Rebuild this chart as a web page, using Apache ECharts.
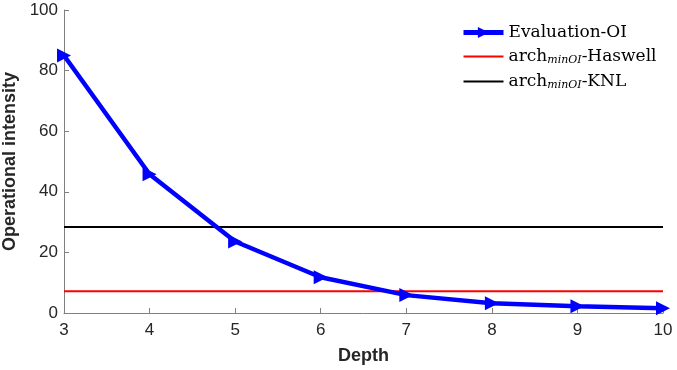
<!DOCTYPE html>
<html>
<head>
<meta charset="utf-8">
<script src="https://cdn.jsdelivr.net/npm/echarts@6/dist/echarts.min.js"></script>
<style>
  html, body { margin: 0; padding: 0; background: #fff; }
  #chart { width: 677px; height: 370px; }
</style>
</head>
<body>
<div id="chart"></div>
<script>
var depth = [3, 4, 5, 6, 7, 8, 9, 10];
var evalOI = [85, 45.8, 23.6, 11.8, 5.9, 3.2, 2.2, 1.6];
var haswellOI = 7.2;
var knlOI = 28.4;

var myChart = echarts.init(document.getElementById('chart'));

var axisColor = '#808080';
var labelColor = '#262626';

var option = {
    animation: false,
    grid: { left: 64, right: 14, top: 10, bottom: 57, outerBoundsMode: 'none', containLabel: false },
    legend: {
        orient: 'vertical',
        left: 456,
        top: 19,
        itemWidth: 40,
        itemHeight: 14,
        itemGap: 7,
        textStyle: {
            fontFamily: 'DejaVu Serif',
            fontSize: 17,
            color: '#000',
            rich: {
                base: { fontFamily: 'DejaVu Serif', fontSize: 17, color: '#000' },
                sub: { fontFamily: 'DejaVu Serif', fontSize: 11, fontStyle: 'italic', color: '#000', padding: [8, 0, 0, 0] }
            }
        },
        formatter: function (name) {
            if (name.indexOf('arch') === 0) {
                return '{base|arch}{sub|minOI}{base|' + name.substring(4) + '}';
            }
            return name;
        },
        data: [
            { name: 'Evaluation-OI', lineStyle: { width: 5 } },
            { name: 'arch-Haswell', itemStyle: { opacity: 0 }, lineStyle: { width: 2 } },
            { name: 'arch-KNL', itemStyle: { opacity: 0 }, lineStyle: { width: 2 } }
        ]
    },
    xAxis: {
        type: 'value',
        min: 3,
        max: 10,
        interval: 1,
        name: 'Depth',
        nameLocation: 'middle',
        nameGap: 34,
        nameTextStyle: { fontFamily: 'Liberation Sans', fontWeight: 'bold', fontSize: 18, color: labelColor },
        axisLine: { lineStyle: { color: axisColor, width: 1 } },
        axisTick: { inside: true, length: 5, lineStyle: { color: axisColor } },
        axisLabel: { fontFamily: 'Liberation Sans', fontSize: 17, color: labelColor, margin: 9 },
        splitLine: { show: false }
    },
    yAxis: {
        type: 'value',
        min: 0,
        max: 100,
        interval: 20,
        name: 'Operational intensity',
        nameLocation: 'middle',
        nameGap: 39,
        nameTextStyle: { fontFamily: 'Liberation Sans', fontWeight: 'bold', fontSize: 18, color: labelColor },
        axisLine: { show: true, lineStyle: { color: axisColor, width: 1 } },
        axisTick: { show: true, inside: true, length: 5, lineStyle: { color: axisColor } },
        axisLabel: { fontFamily: 'Liberation Sans', fontSize: 17, color: labelColor, margin: 6 },
        splitLine: { show: false }
    },
    series: [
        {
            name: 'Evaluation-OI',
            type: 'line',
            data: depth.map(function (d, i) { return [d, evalOI[i]]; }),
            symbol: 'triangle',
            symbolRotate: -90,
            symbolSize: 14,
            lineStyle: { color: '#0000ff', width: 4.5 },
            itemStyle: { color: '#0000ff' },
            z: 3
        },
        {
            name: 'arch-Haswell',
            type: 'line',
            data: [[depth[0], haswellOI], [depth[depth.length - 1], haswellOI]],
            symbol: 'none',
            lineStyle: { color: '#ff0000', width: 2 },
            itemStyle: { color: '#ff0000' },
            z: 2
        },
        {
            name: 'arch-KNL',
            type: 'line',
            data: [[depth[0], knlOI], [depth[depth.length - 1], knlOI]],
            symbol: 'none',
            lineStyle: { color: '#000000', width: 2 },
            itemStyle: { color: '#000000' },
            z: 2
        }
    ]
};

myChart.setOption(option);
</script>
</body>
</html>
